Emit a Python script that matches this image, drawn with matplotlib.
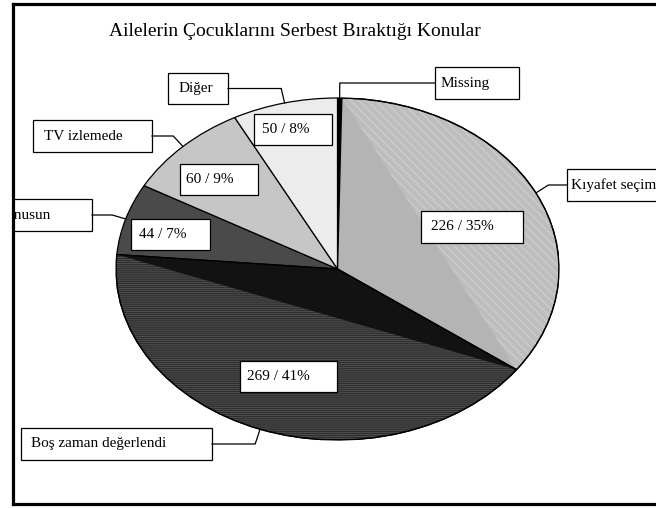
import numpy as np
import matplotlib
matplotlib.use('Agg')
import matplotlib.pyplot as plt
from matplotlib.patches import Rectangle, Wedge, Polygon

plt.rcParams['font.family'] = ['Liberation Serif', 'DejaVu Serif']
plt.rcParams['hatch.linewidth'] = 0.5

# --- veri ---
title = 'Ailelerin Çocuklarını Serbest Bıraktığı Konular'
categories = ['Missing', 'Kıyafet seçimi', 'Boş zaman değerlendi',
              'Arkadaş seçimi konusun', 'TV izlemede', 'Diğer']
counts = [2, 226, 269, 44, 60, 50]
show_value = [False, True, True, True, True, True]

# --- stil ---
colors = ['#000000', '#b4b4b4', '#121212', '#4a4a4a', '#c6c6c6', '#ececec']
seg_colors = [None, '#bdbdbd', '#2e2e2e', None, None, None]
hatch_colors = [None, '#d8d8d8', '#5a5a5a', None, None, None]
hatches = [None, '\\\\\\\\', '--------', None, None, None]

# kutular (piksel): x0, y0, x1, y1 ve yazi x, hizalama
cat_boxes = [(435, 67, 519, 99), (567, 169, 690, 201), (21, 428, 212, 460),
             (-80, 199, 92, 231), (33, 120, 152, 152), (168, 73, 228, 104)]
cat_text_x = [(441, 'left'), (571, 'left'), (31, 'left'),
              (50, 'right'), (44, 'left'), (179, 'left')]
val_boxes = [None, (421, 211, 523, 243), (240, 361, 337, 392),
             (131, 219, 210, 250), (180, 164, 258, 195), (254, 114, 332, 145)]
val_text_x = [None, 431, 247, 139, 186, 262]

W, H = 656, 508
fig = plt.figure(figsize=(W / 100, H / 100), dpi=100)

# elips sinirlari (piksel)
ex0, ex1, ey0, ey1 = 116, 559, 98, 440
cx, cy = (ex0 + ex1) / 2, (ey0 + ey1) / 2
rx, ry = (ex1 - ex0) / 2, (ey1 - ey0) / 2

pax = fig.add_axes([ex0 / W, 1 - ey1 / H, (ex1 - ex0) / W, (ey1 - ey0) / H])
pie_cols = [s if s is not None else c for s, c in zip(seg_colors, colors)]
wedges, _ = pax.pie(counts, colors=pie_cols, startangle=90, counterclock=False,
                    wedgeprops=dict(edgecolor='black', linewidth=0.9))
pax.set_aspect('auto')
pax.set_xlim(-1, 1)
pax.set_ylim(-1, 1)
pax.axis('off')

for i, w in enumerate(wedges):
    if hatches[i] is None:
        continue
    t1, t2 = np.radians(w.theta1), np.radians(w.theta2)
    pax.add_patch(Wedge((0, 0), 1, w.theta1, w.theta2, facecolor='none',
                        edgecolor=hatch_colors[i], linewidth=0, hatch=hatches[i], zorder=2))
    tri = [(0, 0), (np.cos(t1), np.sin(t1)), (np.cos(t2), np.sin(t2))]
    pax.add_patch(Polygon(tri, closed=True, facecolor=colors[i], edgecolor='none', zorder=3))
    pax.add_patch(Wedge((0, 0), 1, w.theta1, w.theta2, facecolor='none',
                        edgecolor='black', linewidth=1.0, zorder=4))

# etiket katmani, piksel koordinatlari
lax = fig.add_axes([13 / W, 1 - 504 / H, (690 - 13) / W, (504 - 4) / H])
lax.set_xlim(13, 690)
lax.set_ylim(504, 4)
lax.set_zorder(5)
lax.patch.set_alpha(0)
lax.set_xticks([])
lax.set_yticks([])
for s in ['left', 'top', 'bottom']:
    lax.spines[s].set_linewidth(2.3)
lax.spines['right'].set_visible(False)

lax.text(294.5, 31, title, ha='center', va='center', fontsize=14)

total = sum(counts)
for i, w in enumerate(wedges):
    mid = np.radians((w.theta1 + w.theta2) / 2)
    ax_, ay_ = cx + rx * np.cos(mid), cy - ry * np.sin(mid)
    kx = cx + (rx + 14) * np.cos(mid)
    x0, y0, x1, y1 = cat_boxes[i]
    ky = (y0 + y1) / 2
    side = x1 if (x0 + x1) / 2 < kx else x0
    lax.plot([ax_, kx, side], [ay_, ky, ky], color='black', linewidth=0.9)
    lax.add_patch(Rectangle((x0, y0), x1 - x0, y1 - y0, facecolor='white',
                            edgecolor='black', linewidth=0.9))
    tx, ha = cat_text_x[i]
    lax.text(tx, ky, categories[i], ha=ha, va='center', fontsize=11, clip_on=True)

    if show_value[i]:
        x0, y0, x1, y1 = val_boxes[i]
        lax.add_patch(Rectangle((x0, y0), x1 - x0, y1 - y0, facecolor='white',
                                edgecolor='black', linewidth=0.9))
        pct = round(100 * counts[i] / total)
        lax.text(val_text_x[i], (y0 + y1) / 2, f'{counts[i]} / {pct}%',
                 ha='left', va='center', fontsize=11, clip_on=True)

fig.savefig('out.png', dpi=100)
